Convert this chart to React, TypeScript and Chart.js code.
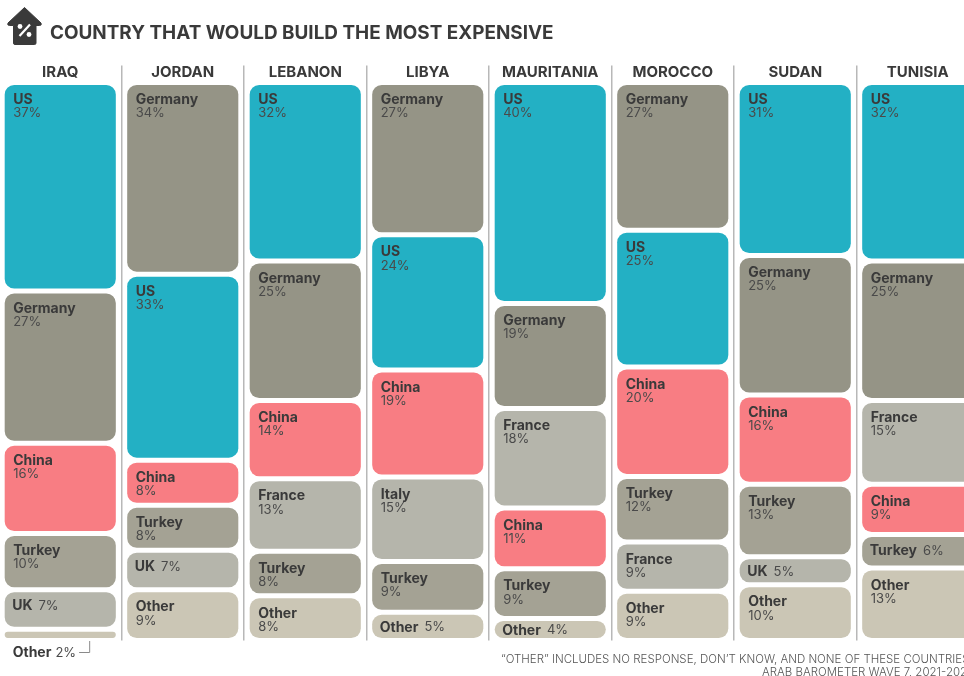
import React, { useEffect, useRef } from "react";
import { Chart, registerables } from "chart.js";

Chart.register(...registerables);

const countries = ["IRAQ", "JORDAN", "LEBANON", "LIBYA", "MAURITANIA", "MOROCCO", "SUDAN", "TUNISIA"];

const iraqNames = ["US", "Germany", "China", "Turkey", "UK", "Other"];
const iraqValues = [37, 27, 16, 10, 7, 2];
const jordanNames = ["Germany", "US", "China", "Turkey", "UK", "Other"];
const jordanValues = [34, 33, 8, 8, 7, 9];
const lebanonNames = ["US", "Germany", "China", "France", "Turkey", "Other"];
const lebanonValues = [32, 25, 14, 13, 8, 8];
const libyaNames = ["Germany", "US", "China", "Italy", "Turkey", "Other"];
const libyaValues = [27, 24, 19, 15, 9, 5];
const mauritaniaNames = ["US", "Germany", "France", "China", "Turkey", "Other"];
const mauritaniaValues = [40, 19, 18, 11, 9, 4];
const moroccoNames = ["Germany", "US", "China", "Turkey", "France", "Other"];
const moroccoValues = [27, 25, 20, 12, 9, 9];
const sudanNames = ["US", "Germany", "China", "Turkey", "UK", "Other"];
const sudanValues = [31, 25, 16, 13, 5, 10];
const tunisiaNames = ["US", "Germany", "France", "China", "Turkey", "Other"];
const tunisiaValues = [32, 25, 15, 9, 6, 13];

const allNames = [iraqNames, jordanNames, lebanonNames, libyaNames, mauritaniaNames, moroccoNames, sudanNames, tunisiaNames];
const allValues = [iraqValues, jordanValues, lebanonValues, libyaValues, mauritaniaValues, moroccoValues, sudanValues, tunisiaValues];

const colors: Record<string, string> = {
  US: "#23B0C4",
  Germany: "#959486",
  China: "#F87D83",
  Turkey: "#A4A294",
  France: "#B5B5AB",
  Italy: "#B5B5AB",
  UK: "#B5B5AB",
  Other: "#CBC6B5",
};

const FONT = "Inter, 'Open Sans', sans-serif";
const INK = "#3A3A3A";

const segmentLabels = {
  id: "segmentLabels",
  afterDatasetsDraw(chart: any) {
    const ctx = chart.ctx;
    ctx.save();
    ctx.textBaseline = "middle";
    ctx.textAlign = "left";
    chart.data.datasets.forEach((_: any, di: number) => {
      chart.getDatasetMeta(di).data.forEach((el: any, ci: number) => {
        const name = allNames[ci][di];
        const value = allValues[ci][di];
        const top = Math.min(el.y, el.base) + 2.5;
        const bottom = Math.max(el.y, el.base) - 2.5;
        const left = el.x - el.width / 2 + 2.5;
        const pct = value + "%";
        const bold = `700 14px ${FONT}`;
        const reg = `400 13px ${FONT}`;
        if (value < 3) {
          const y = bottom + 15;
          const x = left + 8;
          ctx.font = bold;
          ctx.fillStyle = INK;
          ctx.fillText(name, x, y);
          const w = ctx.measureText(name).width;
          ctx.font = reg;
          ctx.fillStyle = "#4A4A4A";
          ctx.fillText(pct, x + w + 4, y);
          const end = x + w + 4 + ctx.measureText(pct).width;
          ctx.strokeStyle = "#8A8A8A";
          ctx.lineWidth = 1;
          ctx.beginPath();
          ctx.moveTo(end + 3, y - 0.5);
          ctx.lineTo(left + 85, y - 0.5);
          ctx.lineTo(left + 85, bottom + 3);
          ctx.stroke();
        } else if (value <= 7) {
          const y = Math.min(top + 14, (top + bottom) / 2 + 1);
          const x = left + 7.5;
          ctx.font = bold;
          ctx.fillStyle = INK;
          ctx.fillText(name, x, y);
          const w = ctx.measureText(name).width;
          ctx.font = reg;
          ctx.fillStyle = "#4A4A4A";
          ctx.fillText(pct, x + w + 6, y);
        } else {
          const x = left + 8.5;
          ctx.font = bold;
          ctx.fillStyle = INK;
          ctx.fillText(name, x, top + 15);
          ctx.font = reg;
          ctx.fillStyle = "#4A4A4A";
          ctx.fillText(pct, x, top + 28.5);
        }
      });
    });
    ctx.restore();
  },
};

export default function App() {
  const ref = useRef<HTMLCanvasElement>(null);
  useEffect(() => {
    const datasets = [0, 1, 2, 3, 4, 5].map((rank) => ({
      label: "Rank " + (rank + 1),
      data: allValues.map((vals) => (vals[rank] / vals.reduce((a, b) => a + b, 0)) * 100),
      backgroundColor: allNames.map((names) => colors[names[rank]]),
      borderColor: "#FFFFFF",
      borderWidth: 2.5,
      borderSkipped: false as const,
      borderRadius: { topLeft: 12, topRight: 12, bottomLeft: 12, bottomRight: 12 },
      barPercentage: 0.948,
      categoryPercentage: 1,
    }));
    const chart = new Chart(ref.current!, {
      type: "bar",
      data: { labels: countries, datasets },
      plugins: [segmentLabels],
      options: {
        animation: false,
        responsive: false,
        layout: { padding: { top: 17.5, bottom: 35.5, left: 0, right: 0 } },
        plugins: { legend: { display: false }, tooltip: { enabled: false }, title: { display: false } },
        scales: {
          x: {
            position: "top",
            stacked: true,
            afterFit(scale: any) {
              scale.height = 65;
            },
            border: { display: false },
            grid: { color: "#B8B8B8", lineWidth: 1.5, tickLength: 17, drawTicks: true },
            ticks: {
              color: INK,
              font: { family: FONT, weight: 700, size: 15 },
              padding: -16,
              maxRotation: 0,
              autoSkip: false,
            },
          },
          y: { display: false, stacked: true, reverse: true, min: 0, max: 100 },
        },
      } as any,
    });
    return () => chart.destroy();
  }, []);

  const foot: React.CSSProperties = {
    position: "absolute",
    fontFamily: FONT,
    fontWeight: 300,
    fontSize: 11.5,
    lineHeight: "14px",
    color: "#555",
    whiteSpace: "nowrap",
  };

  return (
    <div style={{ position: "absolute", left: 0, top: 0, width: 964, height: 676, overflow: "hidden", background: "#fff" }}>
      <canvas ref={ref} width={980} height={676} style={{ position: "absolute", left: -1, top: 0, width: 980, height: 676 }} />
      <svg width="50" height="50" viewBox="0 0 50 50" style={{ position: "absolute", left: 0, top: 0 }}>
        <path
          d="M24.5 7.5 L41 23 Q42 25.5 39.5 25.5 H36 V43 Q36 44.5 34.5 44.5 H15 Q13.5 44.5 13.5 43 V25.5 H9.5 Q7 25.5 8 23 Z"
          fill="#3A3A3A"
          stroke="#3A3A3A"
          strokeLinejoin="round"
        />
        <line x1="30" y1="24.5" x2="19.5" y2="36" stroke="#fff" strokeWidth="2.2" />
        <circle cx="20" cy="26.5" r="2.4" fill="#fff" />
        <circle cx="29" cy="34.5" r="2.4" fill="#fff" />
      </svg>
      <div
        style={{
          position: "absolute",
          left: 50,
          top: 20,
          fontFamily: FONT,
          fontWeight: 700,
          fontSize: 18.9,
          lineHeight: "26px",
          color: INK,
          whiteSpace: "nowrap",
        }}
      >
        COUNTRY THAT WOULD BUILD THE MOST EXPENSIVE
      </div>
      <div style={{ ...foot, left: 501, top: 652 }}>“OTHER” INCLUDES NO RESPONSE, DON’T KNOW, AND NONE OF THESE COUNTRIES</div>
      <div style={{ ...foot, left: 762, top: 665 }}>ARAB BAROMETER WAVE 7, 2021-2022</div>
    </div>
  );
}
